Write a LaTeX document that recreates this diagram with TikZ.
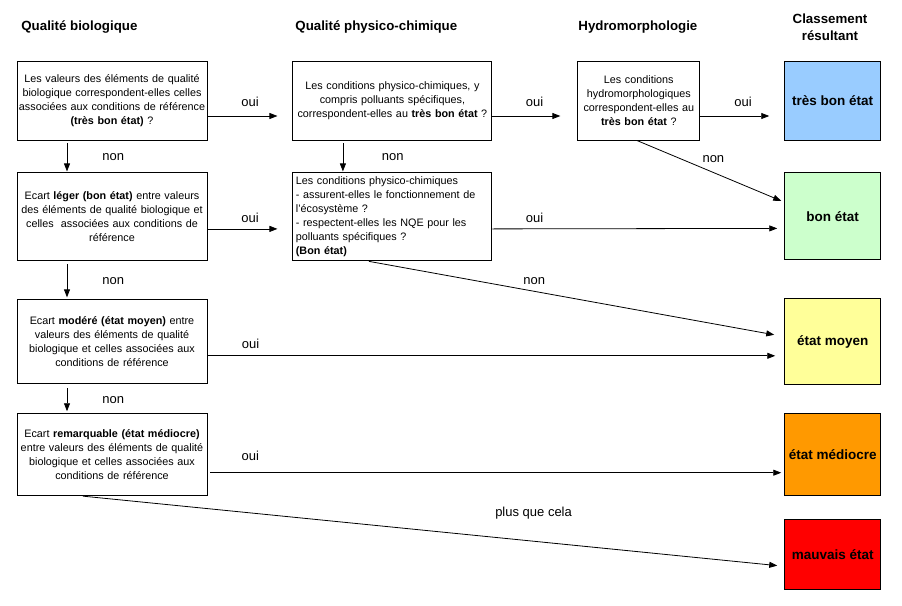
\documentclass[tikz,border=0pt]{standalone}
\usepackage{fontspec}
\setmainfont{Liberation Sans}
\usetikzlibrary{positioning,arrows.meta}
\definecolor{tbeblue}{RGB}{153,204,255}
\definecolor{begreen}{RGB}{204,255,204}
\definecolor{moyyellow}{RGB}{255,255,153}
\definecolor{medorange}{RGB}{255,153,0}
\definecolor{mauvred}{RGB}{255,0,0}

\begin{document}
\begin{tikzpicture}[
    x=1pt, y=-1pt,
    node distance = 85pt,
    line width=0.8pt,
    >={Triangle[length=8pt,width=6pt]},
    box/.style={draw=black, line width=0.9pt, align=center, inner xsep=0pt, inner ysep=0pt,
      font=\fontsize{10.8}{14}\selectfont},
    result/.style={draw=black, line width=0.9pt, minimum width=96pt, inner sep=0pt,
      font=\bfseries\fontsize{13.5}{15}\selectfont},
    head/.style={inner sep=0pt, font=\bfseries\fontsize{13.3}{17}\selectfont},
    lbl/.style={inner sep=0pt, font=\fontsize{13}{15}\selectfont}]
    \useasboundingbox (0,0) rectangle (902,605);
    % NODES
    % headings
    \node[head, anchor=base west] (hBio) at (21,30) {Qualité biologique};
    \node[head, anchor=base west] (hPhy) at (295,30) {Qualité physico-chimique};
    \node[head, anchor=base west] (hHyd) at (578,30) {Hydromorphologie};
    \node[head, align=center] (hRes) at (830,27) {Classement\\résultant};
    % biological quality
    \node[box, text width=190pt, minimum height=79pt] (Bio1) at (112,100.5)
      {Les valeurs des éléments de qualité\\biologique correspondent-elles celles\\associées aux conditions de référence\\\textbf{(très bon état)} ?};
    \node[box, text width=190pt, minimum height=88pt, below=32pt of Bio1] (Bio2)
      {Ecart \textbf{léger (bon état)} entre valeurs\\des éléments de qualité biologique et\\celles~ associées aux conditions de\\référence};
    \node[box, text width=190pt, minimum height=84pt, below=38pt of Bio2] (Bio3)
      {Ecart \textbf{modéré (état moyen)} entre\\valeurs des éléments de qualité\\biologique et celles associées aux\\conditions de référence};
    \node[box, text width=190pt, minimum height=82pt, below=29pt of Bio3] (Bio4)
      {Ecart \textbf{remarquable (état médiocre)}\\entre valeurs des éléments de qualité\\biologique et celles associées aux\\conditions de référence};
    % physico-chemical quality
    \node[box, text width=199pt, minimum height=79pt, right=of Bio1] (Phy1)
      {Les conditions physico-chimiques, y\\compris polluants spécifiques,\\correspondent-elles au \textbf{très bon état} ?};
    \node[box, align=left, inner xsep=3pt, text width=193pt, minimum height=88pt, below=32pt of Phy1] (Phy2)
      {Les conditions physico-chimiques\\- assurent-elles le fonctionnement de\\l'écosystème ?\\- respectent-elles les NQE pour les\\polluants spécifiques ?\\\textbf{(Bon état)}};
    % hydromorphology
    \node[box, text width=122pt, minimum height=79pt, right=of Phy1] (Hyd)
      {Les conditions\\hydromorphologiques\\correspondent-elles au\\\textbf{très bon état} ?};
    % resulting classes
    \node[result, fill=tbeblue, minimum height=79pt, right=84pt of Hyd] (TBE) {très bon état};
    \node[result, fill=begreen, minimum height=87pt, below=32pt of TBE] (BE) {bon état};
    \node[result, fill=moyyellow, minimum height=86pt, below=38pt of BE] (EMoy) {état moyen};
    \node[result, fill=medorange, minimum height=82pt, below=28pt of EMoy] (EMed) {état médiocre};
    \node[result, fill=mauvred, minimum height=70pt, below=23pt of EMed] (EMau) {mauvais état};

    % ARROWS
    \draw[->] ([yshift=-15.5pt]Bio1.east) -- node[lbl, pos=0.61, above=9pt] (oui1) {oui} ([xshift=-15pt,yshift=-15.5pt]Phy1.west);
    \draw[->] ([yshift=-15.5pt]Phy1.east) -- node[lbl, pos=0.62, above=9pt] (oui2) {oui} ([xshift=-17pt,yshift=-15.5pt]Hyd.west);
    \draw[->] ([yshift=-15.5pt]Hyd.east) -- node[lbl, pos=0.62, above=9pt] (oui3) {oui} ([xshift=-15pt,yshift=-15.5pt]TBE.west);
    \draw[->] ([xshift=-45pt,yshift=-3pt]Bio1.south) -- node[lbl, midway, right=35pt] (non1) {non} ([xshift=-45pt,yshift=1pt]Bio2.north);
    \draw[->] ([xshift=-49.5pt,yshift=-3pt]Phy1.south) -- node[lbl, midway, right=38.5pt] (non2) {non} ([xshift=-49.5pt,yshift=1pt]Phy2.north);
    \draw[->] ([xshift=-2pt]Hyd.south) -- node[lbl, pos=0.53, above=9pt] (non3) {non} ([xshift=-3pt,yshift=15.5pt]BE.west);
    \draw[->] ([yshift=-12pt]Bio2.east) -- node[lbl, pos=0.61, above=6pt] (oui4) {oui} ([xshift=-15pt,yshift=-12pt]Phy2.west);
    \draw[->] ([yshift=-12pt]Phy2.east) -- node[lbl, pos=0.148, above=6pt] (oui5) {oui} ([xshift=-7pt,yshift=-12pt]BE.west);
    \draw[->] ([xshift=-23.5pt]Phy2.south) -- node[lbl, pos=0.408, above=6pt] (non4) {non} ([xshift=-10pt,yshift=7pt]EMoy.west);
    \draw[->] ([xshift=-45pt,yshift=-3pt]Bio2.south) -- node[lbl, midway, right=35pt] (non5) {non} ([xshift=-45pt,yshift=2pt]Bio3.north);
    \draw[->] ([yshift=-14pt]Bio3.east) -- node[lbl, pos=0.076, above=7pt] (oui6) {oui} ([xshift=-9pt,yshift=-14pt]EMoy.west);
    \draw[->] ([xshift=-45pt,yshift=-4pt]Bio3.south) -- node[lbl, midway, right=35pt] (non6) {non} ([xshift=-45pt,yshift=2pt]Bio4.north);
    \draw[->] ([xshift=3pt,yshift=-18pt]Bio4.east) -- node[lbl, pos=0.07, above=12pt] (oui7) {oui} ([xshift=-3pt,yshift=-18pt]EMed.west);
    \draw[->] ([xshift=-29pt]Bio4.south) -- node[lbl, pos=0.649, above=22pt] (plus) {plus que cela} ([xshift=-7pt,yshift=-11pt]EMau.west);
\end{tikzpicture}
\end{document}
